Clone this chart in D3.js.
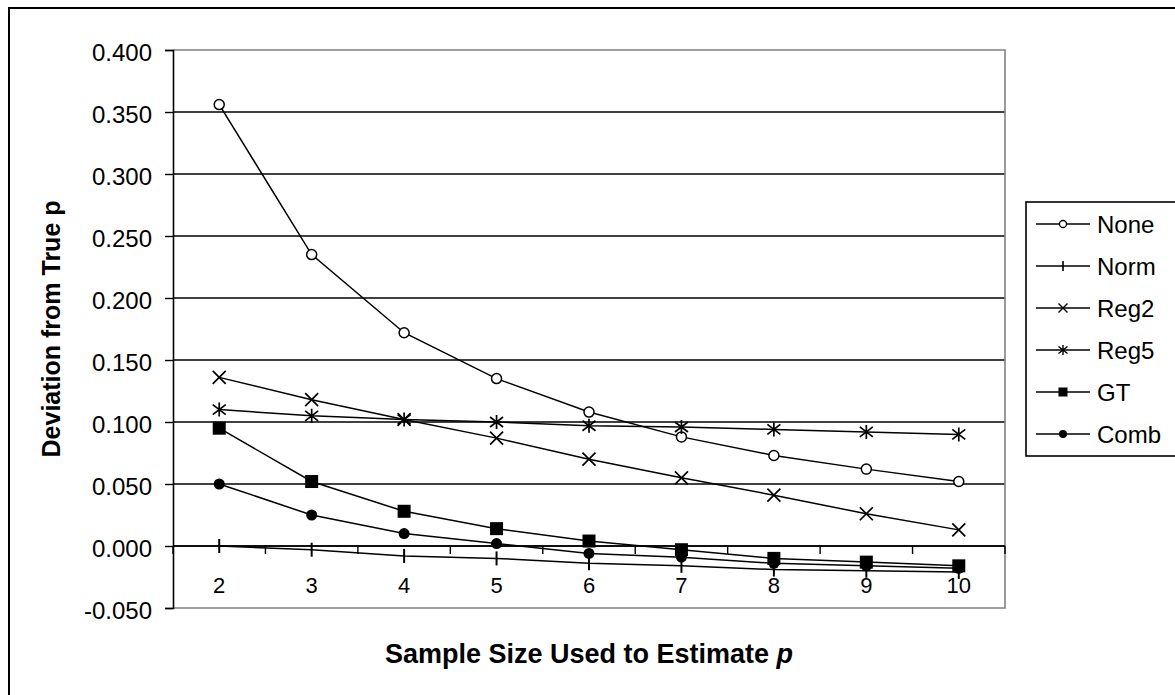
<!DOCTYPE html>
<html>
<head>
<meta charset="utf-8">
<script src="https://cdn.jsdelivr.net/npm/d3@7"></script>
<style>
  html, body { margin: 0; padding: 0; background: #fff; }
  svg { display: block; font-family: "Liberation Sans", Arial, sans-serif; }
</style>
</head>
<body>
<svg id="chart" width="1175" height="695"></svg>
<script>
// Sample sizes on the x axis
const categories = ["2", "3", "4", "5", "6", "7", "8", "9", "10"];

// Deviation from true p for each estimator
const noneVals = [0.356, 0.235, 0.172, 0.135, 0.108, 0.088, 0.073, 0.062, 0.052];
const normVals = [0.000, -0.003, -0.008, -0.010, -0.014, -0.016, -0.019, -0.020, -0.021];
const reg2Vals = [0.136, 0.118, 0.102, 0.087, 0.070, 0.055, 0.041, 0.026, 0.013];
const reg5Vals = [0.110, 0.105, 0.102, 0.100, 0.097, 0.096, 0.094, 0.092, 0.090];
const gtVals   = [0.095, 0.052, 0.028, 0.014, 0.004, -0.003, -0.010, -0.013, -0.016];
const combVals = [0.050, 0.025, 0.010, 0.002, -0.006, -0.009, -0.014, -0.016, -0.018];

const seriesNames = ["None", "Norm", "Reg2", "Reg5", "GT", "Comb"];
const markerTypes = ["circleOpen", "vbar", "cross", "star", "square", "circleFilled"];

const yTicks = [-0.05, 0, 0.05, 0.1, 0.15, 0.2, 0.25, 0.3, 0.35, 0.4];

const series = [noneVals, normVals, reg2Vals, reg5Vals, gtVals, combVals].map((v, i) => ({
  name: seriesNames[i], marker: markerTypes[i], values: v
}));

const svg = d3.select("#chart");
const plot = { left: 173, right: 1005, top: 50, bottom: 608 };
const FONT = "'Liberation Sans', Arial, sans-serif";

// Outer chart frame
svg.append("rect")
  .attr("x", 9).attr("y", 8).attr("width", 1180).attr("height", 700)
  .attr("fill", "none").attr("stroke", "#000").attr("stroke-width", 2);

const x = d3.scaleBand().domain(categories).range([plot.left, plot.right]).padding(0);
const y = d3.scaleLinear().domain([-0.05, 0.4]).range([plot.bottom, plot.top]);

// Horizontal gridlines
svg.append("g").selectAll("line").data(yTicks.filter(t => t > -0.05 && t < 0.4)).join("line")
  .attr("x1", plot.left).attr("x2", plot.right)
  .attr("y1", d => y(d)).attr("y2", d => y(d))
  .attr("stroke", "#000").attr("stroke-width", 1.4);

// Plot area border (top, right, bottom)
svg.append("path")
  .attr("d", `M${plot.left},${plot.top}H${plot.right}V${plot.bottom}H${plot.left}`)
  .attr("fill", "none").attr("stroke", "#808080").attr("stroke-width", 1.6);

// Y axis
const fmt = d3.format(".3f");
const yAxis = svg.append("g")
  .attr("transform", `translate(${plot.left},0)`)
  .call(d3.axisLeft(y).tickValues(yTicks).tickSize(8).tickPadding(13));
yAxis.select(".domain").attr("stroke", "#000").attr("stroke-width", 1.6);
yAxis.selectAll(".tick line").attr("stroke", "#000").attr("stroke-width", 1.4);
yAxis.selectAll(".tick text")
  .attr("font-size", 24).attr("fill", "#000").attr("font-family", FONT)
  .attr("dy", "0.44em")
  .text(d => d < 0 ? "-" + fmt(-d) : fmt(d));

// X axis crossing at zero
const xAxis = svg.append("g")
  .attr("transform", `translate(0,${y(0)})`);
xAxis.append("line")
  .attr("x1", plot.left).attr("x2", plot.right)
  .attr("stroke", "#000").attr("stroke-width", 1.6);
const bounds = categories.map(c => x(c)).concat([plot.right]);
xAxis.selectAll("line.tk").data(bounds).join("line").attr("class", "tk")
  .attr("x1", d => d).attr("x2", d => d).attr("y1", 0).attr("y2", 8)
  .attr("stroke", "#000").attr("stroke-width", 1.4);
svg.append("g").selectAll("text").data(categories).join("text")
  .attr("x", d => x(d) + x.bandwidth() / 2)
  .attr("y", 593)
  .attr("text-anchor", "middle")
  .attr("font-size", 22).attr("fill", "#000")
  .text(d => d);

// Axis titles
svg.append("text")
  .attr("transform", "translate(60,329) rotate(-90)")
  .attr("text-anchor", "middle")
  .attr("font-size", 25).attr("font-weight", "bold")
  .text("Deviation from True p");

const xt = svg.append("text")
  .attr("x", 589).attr("y", 663)
  .attr("text-anchor", "middle")
  .attr("font-size", 27).attr("font-weight", "bold");
xt.append("tspan").text("Sample Size Used to Estimate ");
xt.append("tspan").attr("font-style", "italic").text("p");

// Marker drawing
function drawMarker(g, type) {
  switch (type) {
    case "circleOpen":
      g.append("circle").attr("r", 5).attr("fill", "#fff").attr("stroke", "#000").attr("stroke-width", 1.5);
      break;
    case "vbar":
      g.append("line").attr("y1", -7).attr("y2", 7).attr("stroke", "#000").attr("stroke-width", 2);
      break;
    case "cross":
      g.append("path").attr("d", "M-6.5,-6.5L6.5,6.5M-6.5,6.5L6.5,-6.5").attr("stroke", "#000").attr("stroke-width", 1.7);
      break;
    case "star":
      g.append("path").attr("d", "M-6.5,-5L6.5,5M-6.5,5L6.5,-5M0,-7V7").attr("stroke", "#000").attr("stroke-width", 1.7);
      break;
    case "square":
      g.append("rect").attr("x", -6.5).attr("y", -6.5).attr("width", 13).attr("height", 13).attr("fill", "#000");
      break;
    case "circleFilled":
      g.append("circle").attr("r", 5.5).attr("fill", "#000");
      break;
  }
}

const line = d3.line()
  .x((d, i) => x(categories[i]) + x.bandwidth() / 2)
  .y(d => y(d));

const sg = svg.append("g").selectAll("g").data(series).join("g");
sg.append("path")
  .attr("d", d => line(d.values))
  .attr("fill", "none").attr("stroke", "#000").attr("stroke-width", 1.5);
sg.each(function (s) {
  const g = d3.select(this);
  s.values.forEach((v, i) => {
    const m = g.append("g")
      .attr("transform", `translate(${x(categories[i]) + x.bandwidth() / 2},${y(v)})`);
    drawMarker(m, s.marker);
  });
});

// Legend
const legend = svg.append("g");
legend.append("rect")
  .attr("x", 1026).attr("y", 202).attr("width", 200).attr("height", 254)
  .attr("fill", "#fff").attr("stroke", "#000").attr("stroke-width", 1.6);
const li = legend.selectAll("g.item").data(series).join("g").attr("class", "item")
  .attr("transform", (d, i) => `translate(0,${224 + i * 42})`);
li.append("line").attr("x1", 1036).attr("x2", 1090)
  .attr("stroke", "#000").attr("stroke-width", 1.4);
li.each(function (s) {
  const m = d3.select(this).append("g").attr("transform", "translate(1063,0)");
  const t = s.marker;
  if (t === "circleOpen") m.append("circle").attr("r", 3.5).attr("fill", "#fff").attr("stroke", "#000").attr("stroke-width", 1.3);
  else if (t === "vbar") m.append("line").attr("y1", -5).attr("y2", 5).attr("stroke", "#000").attr("stroke-width", 1.6);
  else if (t === "cross") m.append("path").attr("d", "M-4.5,-4.5L4.5,4.5M-4.5,4.5L4.5,-4.5").attr("stroke", "#000").attr("stroke-width", 1.4);
  else if (t === "star") m.append("path").attr("d", "M-4.5,-3.5L4.5,3.5M-4.5,3.5L4.5,-3.5M0,-5V5").attr("stroke", "#000").attr("stroke-width", 1.4);
  else if (t === "square") m.append("rect").attr("x", -4.5).attr("y", -4.5).attr("width", 9).attr("height", 9).attr("fill", "#000");
  else m.append("circle").attr("r", 4).attr("fill", "#000");
});
li.append("text").attr("x", 1097).attr("y", 8.5)
  .attr("font-size", 24).attr("fill", "#000")
  .text(d => d.name);
</script>
</body>
</html>
